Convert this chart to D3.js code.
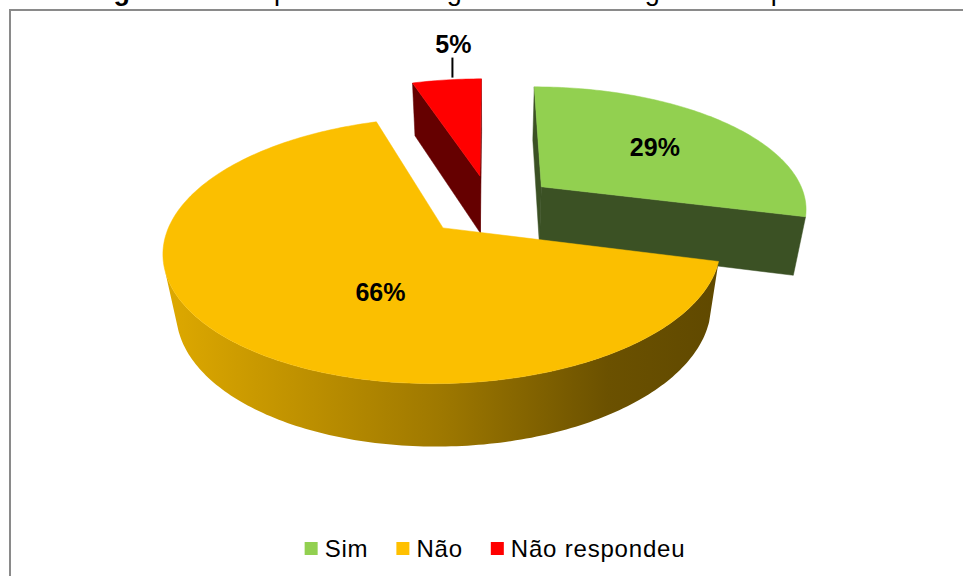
<!DOCTYPE html>
<html>
<head>
<meta charset="utf-8">
<script src="https://cdn.jsdelivr.net/npm/d3@7"></script>
<style>
  body { margin: 0; background: #fff; }
  svg { display: block; font-family: Arial, "Liberation Sans", sans-serif; }
</style>
</head>
<body>
<svg id="chart" width="963" height="576"></svg>
<script>
// chart data
const categories = ["Sim", "Não", "Não respondeu"];
const values = [29, 66, 5];
const titleBold = "Figura 10 -";
const titleRest = " Empresa utiliza algum sistema de gestão empresarial";

// colours: top faces and cut faces
const topColors = ["#92D050", "#FBBF00", "#FF0000"];
const legendColors = ["#92D050", "#FFC000", "#FF0000"];
const cutColors = ["#3B5124", "#8A6800", "#650000"];

// where each percentage label sits (radius fraction, turn in degrees from the bisector)
const labelSpots = [
  { r: 0.6, turn: 0, leader: false },
  { r: 0.5, turn: -20, leader: false },
  { r: 1.0, turn: 1.5, leader: true }
];

const svg = d3.select("#chart");

// 3d view (pie radius = 1), camera sits above x = cx
const view = {
  cx: 490, cy: 205,
  kx: 1332, ky: 1062,
  dist: 5,
  tilt: 35 * Math.PI / 180,
  depth: 0.347,
  explode: 0.25
};
const sa = Math.sin(view.tilt), ca = Math.cos(view.tilt);
const camera = [0, -view.dist * ca, view.dist * sa];

function project(x, y, z) {
  const yc = y * sa + z * ca;
  const d = view.dist + y * ca - z * sa;
  return [view.cx + view.kx * x / d, view.cy - view.ky * yc / d];
}

function facing(p, n) {
  return (camera[0] - p[0]) * n[0] + (camera[1] - p[1]) * n[1] + (camera[2] - p[2]) * n[2] > 0;
}

const line = d3.line();
const poly = pts => line(pts) + "Z";

// frame
svg.append("rect")
  .attr("x", 10).attr("y", 10)
  .attr("width", 1000).attr("height", 620)
  .attr("fill", "none")
  .attr("stroke", "#8a8a8a")
  .attr("stroke-width", 2);

// title (cut off by the top of the picture, as in the original)
const title = svg.append("text")
  .attr("x", 482).attr("y", 0)
  .attr("text-anchor", "middle")
  .attr("font-size", 27)
  .attr("fill", "#000");
title.append("tspan").attr("font-weight", "bold").text(titleBold);
title.append("tspan").text(titleRest);

// slices, angles clockwise from the far side like the original
const arcs = d3.pie().sort(null).value(d => d)(values).map((a, i) => {
  const mid = (a.startAngle + a.endAngle) / 2;
  return {
    i: i,
    a0: a.startAngle,
    a1: a.endAngle,
    mid: mid,
    ox: view.explode * Math.sin(mid),
    oy: view.explode * Math.cos(mid)
  };
});

const defs = svg.append("defs");
const h = view.depth;
const pieG = svg.append("g").attr("class", "pie");

// far slices first
const order = arcs.slice().sort((a, b) => b.oy - a.oy);

order.forEach(s => {
  const g = pieG.append("g").attr("class", "slice-" + s.i);
  const rim = (phi, z) => project(s.ox + Math.sin(phi), s.oy + Math.cos(phi), z);
  const centre = z => project(s.ox, s.oy, z);
  const steps = Math.max(4, Math.ceil((s.a1 - s.a0) / (Math.PI / 180)));
  const phis = d3.range(steps + 1).map(k => s.a0 + (s.a1 - s.a0) * k / steps);

  // cut faces
  const cuts = [
    { phi: s.a0, n: [-Math.cos(s.a0), Math.sin(s.a0), 0] },
    { phi: s.a1, n: [Math.cos(s.a1), -Math.sin(s.a1), 0] }
  ];
  cuts.forEach(c => {
    if (!facing([s.ox, s.oy, 0], c.n)) return;
    g.append("path")
      .attr("d", poly([centre(0), rim(c.phi, 0), rim(c.phi, -h), centre(-h)]))
      .attr("fill", cutColors[s.i])
      .attr("stroke", cutColors[s.i])
      .attr("stroke-width", 0.5);
  });

  // outer wall, only the parts that face the camera
  const runs = [];
  let run = null;
  phis.forEach(phi => {
    const n = [Math.sin(phi), Math.cos(phi), 0];
    const p = [s.ox + n[0], s.oy + n[1], -h / 2];
    if (facing(p, n)) {
      if (!run) { run = []; runs.push(run); }
      run.push(phi);
    } else {
      run = null;
    }
  });
  runs.forEach((r, j) => {
    if (r.length < 2) return;
    const pts = r.map(phi => rim(phi, 0)).concat(r.slice().reverse().map(phi => rim(phi, -h)));
    const xs = d3.extent(pts, p => p[0]);
    const base = d3.color(topColors[s.i]);
    const id = "wall-" + s.i + "-" + j;
    const grad = defs.append("linearGradient")
      .attr("id", id)
      .attr("gradientUnits", "userSpaceOnUse")
      .attr("x1", xs[0]).attr("x2", xs[1])
      .attr("y1", 0).attr("y2", 0);
    [[0, 0.35], [0.5, 1.3], [0.8, 2.4], [1, 2.7]].forEach(st => {
      grad.append("stop")
        .attr("offset", st[0])
        .attr("stop-color", base.darker(st[1]).formatHex());
    });
    g.append("path")
      .attr("d", poly(pts))
      .attr("fill", "url(#" + id + ")");
  });

  // top face
  g.append("path")
    .attr("d", poly([centre(0)].concat(phis.map(phi => rim(phi, 0)))))
    .attr("fill", topColors[s.i])
    .attr("stroke", topColors[s.i])
    .attr("stroke-width", 0.5);
});

// percentage labels
arcs.forEach(s => {
  const spot = labelSpots[s.i];
  const ang = s.mid + spot.turn * Math.PI / 180;
  const p = project(s.ox + spot.r * Math.sin(ang), s.oy + spot.r * Math.cos(ang), 0);
  const txt = values[s.i] + "%";
  if (spot.leader) {
    svg.append("line")
      .attr("x1", p[0]).attr("x2", p[0])
      .attr("y1", p[1] - 2).attr("y2", p[1] - 22)
      .attr("stroke", "#000")
      .attr("stroke-width", 2);
    svg.append("text")
      .attr("x", p[0] + 1).attr("y", p[1] - 27)
      .attr("text-anchor", "middle")
      .attr("font-size", 25)
      .attr("font-weight", "bold")
      .text(txt);
  } else {
    svg.append("text")
      .attr("x", p[0]).attr("y", p[1])
      .attr("dy", "0.36em")
      .attr("text-anchor", "middle")
      .attr("font-size", 25)
      .attr("font-weight", "bold")
      .text(txt);
  }
});

// legend
const legend = svg.append("g").attr("class", "legend");
const sw = 13, swGap = 7, itemGap = 28;
const items = categories.map((c, i) => {
  const it = legend.append("g");
  it.append("rect")
    .attr("width", sw).attr("height", sw)
    .attr("y", -sw)
    .attr("fill", legendColors[i]);
  const t = it.append("text")
    .attr("x", sw + swGap)
    .attr("y", 2)
    .attr("font-size", 24)
    .attr("letter-spacing", 0.8)
    .text(c);
  return { g: it, w: sw + swGap + t.node().getComputedTextLength() };
});
const total = d3.sum(items, d => d.w) + itemGap * (items.length - 1);
let x0 = 495 - total / 2;
items.forEach(d => {
  d.g.attr("transform", "translate(" + x0 + ",555)");
  x0 += d.w + itemGap;
});
</script>
</body>
</html>
